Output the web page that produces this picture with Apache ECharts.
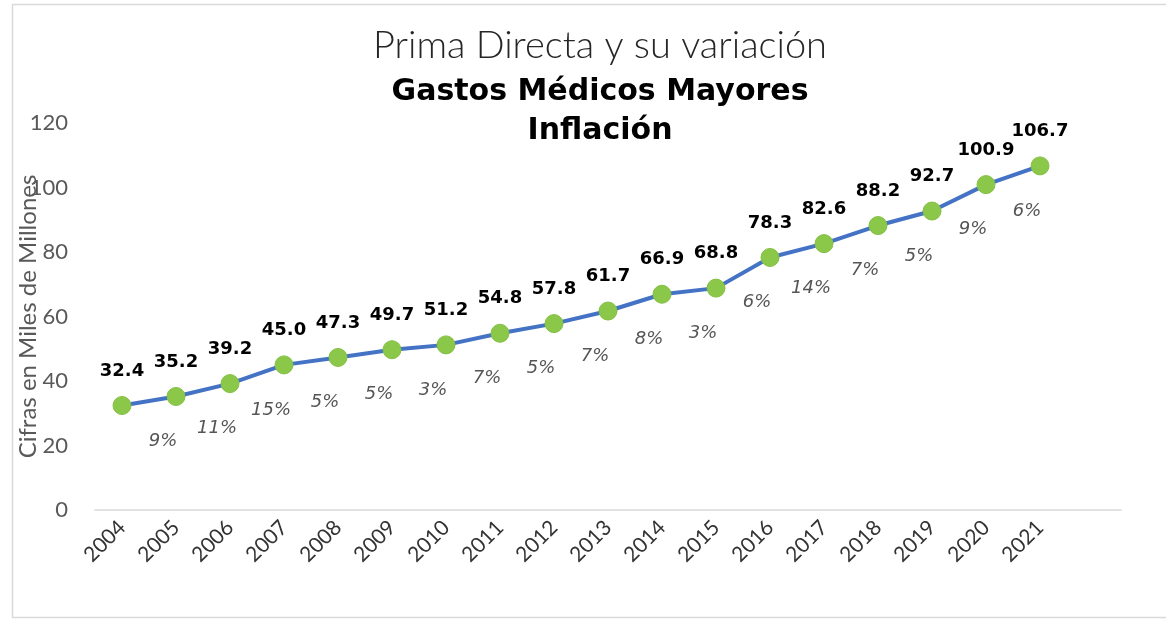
<!DOCTYPE html>
<html>
<head>
<meta charset="utf-8">
<script src="https://cdn.jsdelivr.net/npm/echarts@6/dist/echarts.min.js"></script>
<style>
  html, body { margin: 0; padding: 0; background: #ffffff; }
  #chart { width: 1166px; height: 620px; }
</style>
</head>
<body>
<div id="chart"></div>
<script>
// Years on the category axis
const years = ['2004', '2005', '2006', '2007', '2008', '2009', '2010', '2011', '2012',
               '2013', '2014', '2015', '2016', '2017', '2018', '2019', '2020', '2021'];
// Prima directa, miles de millones
const prima = [32.4, 35.2, 39.2, 45.0, 47.3, 49.7, 51.2, 54.8, 57.8,
               61.7, 66.9, 68.8, 78.3, 82.6, 88.2, 92.7, 100.9, 106.7];
// Variación anual (%) shown under each point; none for the first year
const variacion = [null, 9, 11, 15, 5, 5, 3, 7, 5, 7, 8, 3, 6, 14, 7, 5, 9, 6];
// Y axis scale
const yMin = 0, yMax = 120, yStep = 20;

const chart = echarts.init(document.getElementById('chart'));

chart.setOption({
  backgroundColor: '#ffffff',
  animation: false,
  graphic: [{
    type: 'rect',
    silent: true,
    shape: { x: 12.5, y: 4.5, width: 1170, height: 613 },
    style: { fill: 'none', stroke: '#d9d9d9', lineWidth: 1.5 }
  }],
  title: [
    {
      text: 'Prima Directa y su variación',
      left: 595, textAlign: 'center', top: 22,
      textStyle: { fontFamily: 'Lato', fontWeight: 300, fontSize: 38, color: '#262626' }
    },
    {
      text: 'Gastos Médicos Mayores',
      left: 595, textAlign: 'center', top: 72,
      textStyle: { fontFamily: 'DejaVu Sans', fontWeight: 'bold', fontSize: 30, color: '#000000' }
    },
    {
      text: 'Inflación',
      left: 595, textAlign: 'center', top: 111,
      textStyle: { fontFamily: 'DejaVu Sans', fontWeight: 'bold', fontSize: 30, color: '#000000' }
    }
  ],
  grid: { left: 95, right: 45, top: 123, bottom: 110, containLabel: false },
  xAxis: {
    type: 'category',
    // trailing empty slot leaves room after the last year
    data: years.concat(['']),
    boundaryGap: true,
    axisLine: { show: true, lineStyle: { color: '#d9d9d9', width: 1.5 } },
    axisTick: { show: false },
    axisLabel: {
      rotate: 45, margin: 14, interval: 0,
      fontFamily: 'Lato', fontSize: 21, color: '#333333'
    }
  },
  yAxis: {
    type: 'value',
    min: yMin, max: yMax, interval: yStep,
    name: 'Cifras en Miles de Millones',
    nameLocation: 'middle', nameRotate: 90, nameGap: 55,
    nameMoveOverlap: false,
    nameTextStyle: { fontFamily: 'Lato', fontSize: 24, color: '#595959' },
    axisLine: { show: false },
    axisTick: { show: false },
    splitLine: { show: false },
    axisLabel: { fontFamily: 'Lato', fontSize: 22, color: '#595959', margin: 27 }
  },
  series: [
    {
      name: 'Prima Directa',
      type: 'line',
      data: prima,
      symbol: 'circle',
      symbolSize: 18,
      lineStyle: { color: '#4472c4', width: 4 },
      itemStyle: { color: '#8bc84a', borderColor: '#84c043', borderWidth: 1 },
      label: {
        show: true, position: 'top', distance: 16,
        formatter: p => p.value.toFixed(1),
        fontFamily: 'DejaVu Sans', fontWeight: 'bold', fontSize: 18, color: '#000000'
      },
      silent: true,
      z: 3
    },
    {
      name: 'Variación',
      type: 'scatter',
      data: prima,
      symbolSize: 1,
      itemStyle: { color: 'rgba(0,0,0,0)' },
      label: {
        show: true, position: 'inside', offset: [-13, 45],
        formatter: p => variacion[p.dataIndex] == null ? '' : variacion[p.dataIndex] + '%',
        fontFamily: 'DejaVu Sans', fontStyle: 'italic', fontSize: 18, color: '#2b2b2b'
      },
      silent: true,
      z: 2
    }
  ]
});
</script>
</body>
</html>
